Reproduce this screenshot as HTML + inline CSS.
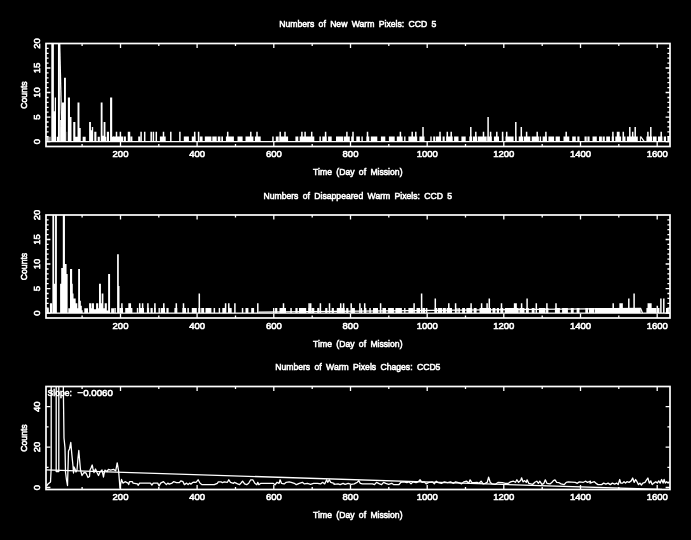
<!DOCTYPE html><html><head><meta charset="utf-8"><title>Warm Pixels CCD 5</title><style>html,body{margin:0;padding:0;background:#000;overflow:hidden}svg{display:block;filter:grayscale(1)}</style></head><body><svg width="691" height="540" viewBox="0 0 691 540">
<rect width="691" height="540" fill="#000"/>
<g font-family="Liberation Sans, sans-serif" font-size="9.7" fill="#fff" stroke="#fff" stroke-width="0.6" text-anchor="middle">
<text transform="translate(357.8,27.2) scale(0.89,1)" word-spacing="2.2">Numbers of New Warm Pixels: CCD 5</text>
<text transform="translate(357.8,175.1) scale(0.89,1)" word-spacing="2.2">Time (Day of Mission)</text>
<text transform="translate(120.5,157.2) scale(0.98,1)">200</text>
<text transform="translate(197.1,157.2) scale(0.98,1)">400</text>
<text transform="translate(273.8,157.2) scale(0.98,1)">600</text>
<text transform="translate(350.5,157.2) scale(0.98,1)">800</text>
<text transform="translate(427.2,157.2) scale(0.98,1)">1000</text>
<text transform="translate(503.8,157.2) scale(0.98,1)">1200</text>
<text transform="translate(580.5,157.2) scale(0.98,1)">1400</text>
<text transform="translate(657.2,157.2) scale(0.98,1)">1600</text>
<text transform="translate(40.4,141.6) rotate(-90) scale(0.98,1)">0</text>
<text transform="translate(40.4,117.1) rotate(-90) scale(0.98,1)">5</text>
<text transform="translate(40.4,92.5) rotate(-90) scale(0.98,1)">10</text>
<text transform="translate(40.4,68.0) rotate(-90) scale(0.98,1)">15</text>
<text transform="translate(40.4,43.5) rotate(-90) scale(0.98,1)">20</text>
<text transform="translate(27.3,95.0) rotate(-90) scale(0.89,1)">Counts</text>
<text transform="translate(357.8,198.7) scale(0.89,1)" word-spacing="2.2">Numbers of Disappeared Warm Pixels: CCD 5</text>
<text transform="translate(357.8,346.6) scale(0.89,1)" word-spacing="2.2">Time (Day of Mission)</text>
<text transform="translate(120.5,328.7) scale(0.98,1)">200</text>
<text transform="translate(197.1,328.7) scale(0.98,1)">400</text>
<text transform="translate(273.8,328.7) scale(0.98,1)">600</text>
<text transform="translate(350.5,328.7) scale(0.98,1)">800</text>
<text transform="translate(427.2,328.7) scale(0.98,1)">1000</text>
<text transform="translate(503.8,328.7) scale(0.98,1)">1200</text>
<text transform="translate(580.5,328.7) scale(0.98,1)">1400</text>
<text transform="translate(657.2,328.7) scale(0.98,1)">1600</text>
<text transform="translate(40.4,313.1) rotate(-90) scale(0.98,1)">0</text>
<text transform="translate(40.4,288.6) rotate(-90) scale(0.98,1)">5</text>
<text transform="translate(40.4,264.0) rotate(-90) scale(0.98,1)">10</text>
<text transform="translate(40.4,239.5) rotate(-90) scale(0.98,1)">15</text>
<text transform="translate(40.4,215.0) rotate(-90) scale(0.98,1)">20</text>
<text transform="translate(27.3,266.5) rotate(-90) scale(0.89,1)">Counts</text>
<text transform="translate(357.8,370.2) scale(0.89,1)" word-spacing="2.2">Numbers of Warm Pixels Chages: CCD5</text>
<text transform="translate(357.8,518.1) scale(0.89,1)" word-spacing="2.2">Time (Day of Mission)</text>
<text transform="translate(120.5,500.2) scale(0.98,1)">200</text>
<text transform="translate(197.1,500.2) scale(0.98,1)">400</text>
<text transform="translate(273.8,500.2) scale(0.98,1)">600</text>
<text transform="translate(350.5,500.2) scale(0.98,1)">800</text>
<text transform="translate(427.2,500.2) scale(0.98,1)">1000</text>
<text transform="translate(503.8,500.2) scale(0.98,1)">1200</text>
<text transform="translate(580.5,500.2) scale(0.98,1)">1400</text>
<text transform="translate(657.2,500.2) scale(0.98,1)">1600</text>
<text transform="translate(40.4,487.5) rotate(-90) scale(0.98,1)">0</text>
<text transform="translate(40.4,447.1) rotate(-90) scale(0.98,1)">20</text>
<text transform="translate(40.4,406.7) rotate(-90) scale(0.98,1)">40</text>
<text transform="translate(27.3,438.0) rotate(-90) scale(0.89,1)">Counts</text>
</g>
<g stroke="#fff" stroke-width="1.7" fill="none" stroke-linecap="butt">
<rect x="46.0" y="43.5" width="624.0" height="103.0"/>
<path stroke-width="1.3" d="M82.1 146.5v-2.5M82.1 43.5v2.5M120.5 146.5v-4.4M120.5 43.5v4.4M158.8 146.5v-2.5M158.8 43.5v2.5M197.1 146.5v-4.4M197.1 43.5v4.4M235.5 146.5v-2.5M235.5 43.5v2.5M273.8 146.5v-4.4M273.8 43.5v4.4M312.2 146.5v-2.5M312.2 43.5v2.5M350.5 146.5v-4.4M350.5 43.5v4.4M388.8 146.5v-2.5M388.8 43.5v2.5M427.2 146.5v-4.4M427.2 43.5v4.4M465.5 146.5v-2.5M465.5 43.5v2.5M503.8 146.5v-4.4M503.8 43.5v4.4M542.2 146.5v-2.5M542.2 43.5v2.5M580.5 146.5v-4.4M580.5 43.5v4.4M618.8 146.5v-2.5M618.8 43.5v2.5M657.2 146.5v-4.4M657.2 43.5v4.4M46.0 141.6h4.4M670.0 141.6h-4.4M46.0 136.7h2.6M670.0 136.7h-2.6M46.0 131.8h2.6M670.0 131.8h-2.6M46.0 126.9h2.6M670.0 126.9h-2.6M46.0 122.0h2.6M670.0 122.0h-2.6M46.0 117.1h4.4M670.0 117.1h-4.4M46.0 112.2h2.6M670.0 112.2h-2.6M46.0 107.3h2.6M670.0 107.3h-2.6M46.0 102.4h2.6M670.0 102.4h-2.6M46.0 97.5h2.6M670.0 97.5h-2.6M46.0 92.5h4.4M670.0 92.5h-4.4M46.0 87.6h2.6M670.0 87.6h-2.6M46.0 82.7h2.6M670.0 82.7h-2.6M46.0 77.8h2.6M670.0 77.8h-2.6M46.0 72.9h2.6M670.0 72.9h-2.6M46.0 68.0h4.4M670.0 68.0h-4.4M46.0 63.1h2.6M670.0 63.1h-2.6M46.0 58.2h2.6M670.0 58.2h-2.6M46.0 53.3h2.6M670.0 53.3h-2.6M46.0 48.4h2.6M670.0 48.4h-2.6"/>
<rect x="46.0" y="215.0" width="624.0" height="103.0"/>
<path stroke-width="1.3" d="M82.1 318.0v-2.5M82.1 215.0v2.5M120.5 318.0v-4.4M120.5 215.0v4.4M158.8 318.0v-2.5M158.8 215.0v2.5M197.1 318.0v-4.4M197.1 215.0v4.4M235.5 318.0v-2.5M235.5 215.0v2.5M273.8 318.0v-4.4M273.8 215.0v4.4M312.2 318.0v-2.5M312.2 215.0v2.5M350.5 318.0v-4.4M350.5 215.0v4.4M388.8 318.0v-2.5M388.8 215.0v2.5M427.2 318.0v-4.4M427.2 215.0v4.4M465.5 318.0v-2.5M465.5 215.0v2.5M503.8 318.0v-4.4M503.8 215.0v4.4M542.2 318.0v-2.5M542.2 215.0v2.5M580.5 318.0v-4.4M580.5 215.0v4.4M618.8 318.0v-2.5M618.8 215.0v2.5M657.2 318.0v-4.4M657.2 215.0v4.4M46.0 313.1h4.4M670.0 313.1h-4.4M46.0 308.2h2.6M670.0 308.2h-2.6M46.0 303.3h2.6M670.0 303.3h-2.6M46.0 298.4h2.6M670.0 298.4h-2.6M46.0 293.5h2.6M670.0 293.5h-2.6M46.0 288.6h4.4M670.0 288.6h-4.4M46.0 283.7h2.6M670.0 283.7h-2.6M46.0 278.8h2.6M670.0 278.8h-2.6M46.0 273.9h2.6M670.0 273.9h-2.6M46.0 269.0h2.6M670.0 269.0h-2.6M46.0 264.0h4.4M670.0 264.0h-4.4M46.0 259.1h2.6M670.0 259.1h-2.6M46.0 254.2h2.6M670.0 254.2h-2.6M46.0 249.3h2.6M670.0 249.3h-2.6M46.0 244.4h2.6M670.0 244.4h-2.6M46.0 239.5h4.4M670.0 239.5h-4.4M46.0 234.6h2.6M670.0 234.6h-2.6M46.0 229.7h2.6M670.0 229.7h-2.6M46.0 224.8h2.6M670.0 224.8h-2.6M46.0 219.9h2.6M670.0 219.9h-2.6"/>
<rect x="46.0" y="386.5" width="624.0" height="103.0"/>
<path stroke-width="1.3" d="M82.1 489.5v-2.5M82.1 386.5v2.5M120.5 489.5v-4.4M120.5 386.5v4.4M158.8 489.5v-2.5M158.8 386.5v2.5M197.1 489.5v-4.4M197.1 386.5v4.4M235.5 489.5v-2.5M235.5 386.5v2.5M273.8 489.5v-4.4M273.8 386.5v4.4M312.2 489.5v-2.5M312.2 386.5v2.5M350.5 489.5v-4.4M350.5 386.5v4.4M388.8 489.5v-2.5M388.8 386.5v2.5M427.2 489.5v-4.4M427.2 386.5v4.4M465.5 489.5v-2.5M465.5 386.5v2.5M503.8 489.5v-4.4M503.8 386.5v4.4M542.2 489.5v-2.5M542.2 386.5v2.5M580.5 489.5v-4.4M580.5 386.5v4.4M618.8 489.5v-2.5M618.8 386.5v2.5M657.2 489.5v-4.4M657.2 386.5v4.4M46.0 487.5h4.4M670.0 487.5h-4.4M46.0 467.3h2.6M670.0 467.3h-2.6M46.0 447.1h4.4M670.0 447.1h-4.4M46.0 426.9h2.6M670.0 426.9h-2.6M46.0 406.7h4.4M670.0 406.7h-4.4"/>
</g>
<clipPath id="c0"><rect x="46.0" y="43.5" width="624.0" height="103.0"/></clipPath>
<g clip-path="url(#c0)" fill="none" stroke="#fff" stroke-linejoin="round">
<path stroke-width="1.3" d="M59.7 43.5L61.7 126.9"/>
<path stroke-width="1.3" d="M640.7 136.7L644.3 141.6"/>
<path fill="#fff" stroke="none" d="M46.69 136.7H47.87V141.6H46.69ZM48.30 136.7H49.37V141.6H48.30ZM49.80 136.7H50.44V141.6H49.80ZM51.30 -5.5H53.88V141.6H51.30ZM53.88 111.2H54.74V141.6H53.88ZM54.74 97.5H56.03V141.6H54.74ZM56.78 136.7H57.96V141.6H56.78ZM57.96 -5.5H59.90V141.6H57.96ZM60.11 120.0H60.97V141.6H60.11ZM60.97 126.9H61.83V141.6H60.97ZM61.83 102.4H63.98V141.6H61.83ZM63.98 77.8H65.91V141.6H63.98ZM66.77 131.8H67.09V141.6H66.77ZM67.85 97.5H69.99V141.6H67.85ZM69.99 117.1H71.50V141.6H69.99ZM73.22 122.0H75.36V141.6H73.22ZM75.36 136.7H77.51V141.6H75.36ZM77.51 102.4H79.45V141.6H77.51ZM79.45 127.9H80.73V141.6H79.45ZM82.67 136.7H85.68V141.6H82.67ZM89.11 122.0H90.94V141.6H89.11ZM90.94 130.3H91.80V141.6H90.94ZM91.80 126.9H93.19V141.6H91.80ZM94.27 131.8H96.42V141.6H94.27ZM97.71 136.7H99.85V141.6H97.71ZM100.71 102.4H102.54V141.6H100.71ZM102.54 135.7H103.61V141.6H102.54ZM103.61 122.0H105.44V141.6H103.61ZM105.44 136.7H106.30V141.6H105.44ZM106.84 131.8H108.98V141.6H106.84ZM110.06 97.5H112.21V141.6H110.06ZM112.21 136.7H114.03V141.6H112.21Z"/>
<path stroke-width="1.4" d="M46 141.6H670"/>
<path stroke-width="1.5" stroke-linecap="butt" d="M116.5 141.6V131.8M120.4 141.6V131.8M128.5 141.6V131.8M129.5 141.6V131.8M141.1 141.6V131.8M144.7 141.6V131.8M151.2 141.6V131.8M153.4 141.6V131.8M156.3 141.6V131.8M163.5 141.6V131.8M170.8 141.6V131.8M179.9 141.6V131.8M194.7 141.6V131.8M198.6 141.6V131.8M227.7 141.6V131.8M250.8 141.6V131.8M257.0 141.6V131.8M280.2 141.6V131.8M285.0 141.6V131.8M301.9 141.6V131.8M305.1 141.6V131.8M311.7 141.6V131.8M325.6 141.6V131.8M346.9 141.6V131.8M353.0 141.6V131.8M367.5 141.6V131.8M400.4 141.6V131.8M412.2 141.6V131.8M415.8 141.6V131.8M423.0 141.6V126.9M440.0 141.6V131.8M447.3 141.6V131.8M451.2 141.6V131.8M470.8 141.6V126.9M475.8 141.6V131.8M483.5 141.6V131.8M488.1 141.6V117.1M490.6 141.6V131.8M496.8 141.6V131.8M502.6 141.6V131.8M506.7 141.6V131.8M515.8 141.6V122.0M521.3 141.6V126.9M526.6 141.6V131.8M537.2 141.6V131.8M545.9 141.6V131.8M566.2 141.6V131.8M612.9 141.6V131.8M617.5 141.6V131.8M618.9 141.6V131.8M623.3 141.6V131.8M629.8 141.6V126.9M632.7 141.6V131.8M635.2 141.6V126.9M647.9 141.6V131.8M650.8 141.6V126.9M661.2 141.6V131.8"/>
<path fill="#fff" stroke="none" d="M112.9 136.4H123.0V141.6H112.9ZM123.7 136.4H125.9V141.6H123.7ZM130.3 136.4H132.4V141.6H130.3ZM138.2 136.4H140.4V141.6H138.2ZM159.9 136.4H165.7V141.6H159.9ZM183.8 136.4H188.9V141.6H183.8ZM191.8 136.4H195.4V141.6H191.8ZM199.7 136.4H202.6V141.6H199.7ZM204.8 136.4H210.0V141.6H204.8ZM210.0 136.4H211.4V141.6H210.0ZM212.3 136.4H216.7V141.6H212.3ZM217.8 136.4H220.4V141.6H217.8ZM221.3 136.4H223.0V141.6H221.3ZM225.9 136.4H233.9V141.6H225.9ZM237.5 136.4H242.6V141.6H237.5ZM245.5 136.4H253.4V141.6H245.5ZM254.9 136.4H260.7V141.6H254.9ZM272.2 136.4H273.7V141.6H272.2ZM275.8 136.4H278.7V141.6H275.8ZM279.5 136.4H288.1V141.6H279.5ZM295.4 136.4H298.3V141.6H295.4ZM299.7 136.4H310.0V141.6H299.7ZM310.0 136.4H314.3V141.6H310.0ZM319.4 136.4H320.9V141.6H319.4ZM322.3 136.4H326.6V141.6H322.3ZM328.1 136.4H331.7V141.6H328.1ZM336.0 136.4H343.3V141.6H336.0ZM344.0 136.4H349.8V141.6H344.0ZM351.2 136.4H353.4V141.6H351.2ZM356.3 136.4H359.9V141.6H356.3ZM361.4 136.4H362.8V141.6H361.4ZM366.4 136.4H369.3V141.6H366.4ZM370.8 136.4H377.3V141.6H370.8ZM380.9 136.4H385.3V141.6H380.9ZM388.9 136.4H394.7V141.6H388.9ZM396.8 136.4H402.6V141.6H396.8ZM404.1 136.4H405.5V141.6H404.1ZM408.4 136.4H410.0V141.6H408.4ZM410.0 136.4H417.2V141.6H410.0ZM419.4 136.4H424.5V141.6H419.4ZM430.3 136.4H431.7V141.6H430.3ZM433.2 136.4H435.3V141.6H433.2ZM436.0 136.4H441.1V141.6H436.0ZM442.6 136.4H444.7V141.6H442.6ZM446.2 136.4H452.7V141.6H446.2ZM454.1 136.4H458.5V141.6H454.1ZM461.4 136.4H465.7V141.6H461.4ZM469.3 136.4H472.2V141.6H469.3ZM473.0 136.4H477.3V141.6H473.0ZM478.0 136.4H486.7V141.6H478.0ZM487.4 136.4H491.8V141.6H487.4ZM493.9 136.4H499.0V141.6H493.9ZM501.9 136.4H503.3V141.6H501.9ZM505.5 136.4H510.0V141.6H505.5ZM510.0 136.4H513.6V141.6H510.0ZM515.1 136.4H516.5V141.6H515.1ZM518.7 136.4H523.0V141.6H518.7ZM523.7 136.4H530.3V141.6H523.7ZM531.7 136.4H538.9V141.6H531.7ZM539.7 136.4H541.1V141.6H539.7ZM542.6 136.4H546.9V141.6H542.6ZM548.4 136.4H554.1V141.6H548.4ZM555.6 136.4H559.9V141.6H555.6ZM563.5 136.4H569.3V141.6H563.5ZM572.2 136.4H575.8V141.6H572.2ZM577.3 136.4H579.5V141.6H577.3ZM584.5 136.4H586.7V141.6H584.5ZM587.4 136.4H589.6V141.6H587.4ZM592.5 136.4H596.8V141.6H592.5ZM599.0 136.4H601.9V141.6H599.0ZM602.6 136.4H604.8V141.6H602.6ZM606.2 136.4H610.0V141.6H606.2ZM611.7 136.4H613.9V141.6H611.7ZM615.3 136.4H621.1V141.6H615.3ZM622.6 136.4H625.5V141.6H622.6ZM626.9 136.4H637.8V141.6H626.9ZM639.9 136.4H640.9V141.6H639.9ZM646.4 136.4H652.2V141.6H646.4ZM653.0 136.4H656.6V141.6H653.0ZM658.0 136.4H662.4V141.6H658.0ZM663.8 136.4H666.0V141.6H663.8ZM667.4 136.4H669.6V141.6H667.4Z"/>
</g>
<clipPath id="c1"><rect x="46.0" y="215.0" width="624.0" height="103.0"/></clipPath>
<g clip-path="url(#c1)" fill="none" stroke="#fff" stroke-linejoin="round">
<path stroke-width="1.3" d="M258.5 312.1L640.7 308.4L642.5 313.1"/>
<path fill="#fff" stroke="none" d="M46.69 308.2H48.83V313.1H46.69ZM49.91 303.3H52.06V313.1H49.91ZM52.38 166.0H54.20V313.1H52.38ZM54.20 283.7H55.06V313.1H54.20ZM55.06 166.0H56.89V313.1H55.06ZM60.11 283.7H61.19V313.1H60.11ZM61.19 268.0H62.80V313.1H61.19ZM62.80 166.0H64.95V313.1H62.80ZM64.95 264.0H66.56V313.1H64.95ZM66.56 273.9H67.63V313.1H66.56ZM68.27 308.2H69.99V313.1H68.27ZM69.99 269.0H72.14V313.1H69.99ZM72.14 283.7H72.79V313.1H72.14ZM72.79 293.5H73.54V313.1H72.79ZM73.54 298.4H75.69V313.1H73.54ZM75.69 303.3H77.30V313.1H75.69ZM77.30 308.2H78.16V313.1H77.30ZM78.16 269.0H79.98V313.1H78.16ZM79.98 300.8H80.84V313.1H79.98ZM80.84 305.7H81.81V313.1H80.84ZM81.81 310.2H82.67V313.1H81.81ZM84.28 308.2H88.04V313.1H84.28ZM89.11 303.3H91.26V313.1H89.11ZM91.26 308.2H91.80V313.1H91.26ZM91.80 303.3H93.95V313.1H91.80ZM93.95 309.2H96.09V313.1H93.95ZM96.09 303.3H98.24V313.1H96.09ZM98.24 308.2H98.99V313.1H98.24ZM98.99 283.7H100.93V313.1H98.99ZM100.93 303.3H101.68V313.1H100.93ZM101.68 293.5H103.40V313.1H101.68ZM103.40 308.2H104.69V313.1H103.40ZM104.69 303.3H106.84V313.1H104.69ZM106.84 310.6H108.12V313.1H106.84ZM108.12 273.9H110.06V313.1H108.12ZM111.13 308.2H114.03V313.1H111.13ZM117.10 254.2H118.80V313.1H117.10ZM118.80 286.1H119.50V313.1H118.80Z"/>
<path stroke-width="1.4" d="M46 313.1H670"/>
<path stroke-width="1.5" stroke-linecap="butt" d="M121.9 313.1V303.3M129.1 313.1V303.3M130.3 313.1V303.3M139.7 313.1V303.3M142.6 313.1V303.3M147.9 313.1V303.3M154.9 313.1V303.3M163.8 313.1V303.3M176.3 313.1V303.3M183.5 313.1V303.3M199.3 313.1V293.5M225.6 313.1V303.3M228.8 313.1V303.3M234.9 313.1V303.3M257.8 313.1V303.3M283.5 313.1V303.3M309.1 313.1V303.3M310.7 313.1V303.3M320.4 313.1V303.3M329.5 313.1V303.3M340.7 313.1V303.3M343.6 313.1V303.3M351.2 313.1V303.3M359.9 313.1V303.3M364.7 313.1V303.3M380.6 313.1V303.3M414.1 313.1V303.3M421.6 313.1V293.5M435.3 313.1V298.4M448.8 313.1V303.3M455.6 313.1V303.3M471.1 313.1V303.3M481.6 313.1V303.3M487.1 313.1V303.3M489.3 313.1V298.4M501.5 313.1V303.3M514.6 313.1V303.3M516.1 313.1V303.3M521.6 313.1V303.3M527.1 313.1V298.4M536.3 313.1V303.3M546.9 313.1V303.3M556.0 313.1V303.3M613.2 313.1V303.3M620.1 313.1V303.3M621.1 313.1V303.3M622.1 313.1V303.3M628.8 313.1V298.4M634.1 313.1V293.5M648.3 313.1V303.3M649.6 313.1V303.3M650.9 313.1V303.3M657.3 313.1V305.7M660.9 313.1V298.4M663.8 313.1V298.4"/>
<path fill="#fff" stroke="none" d="M114.3 307.9H115.8V313.1H114.3ZM119.4 307.9H123.0V313.1H119.4ZM125.2 307.9H132.4V313.1H125.2ZM136.8 307.9H138.2V313.1H136.8ZM138.9 307.9H144.0V313.1H138.9ZM146.9 307.9H149.1V313.1H146.9ZM150.5 307.9H152.7V313.1H150.5ZM154.1 307.9H155.6V313.1H154.1ZM158.5 307.9H159.9V313.1H158.5ZM160.7 307.9H165.0V313.1H160.7ZM166.4 307.9H168.6V313.1H166.4ZM174.4 307.9H177.3V313.1H174.4ZM182.4 307.9H186.0V313.1H182.4ZM187.4 307.9H188.9V313.1H187.4ZM191.8 307.9H196.8V313.1H191.8ZM198.3 307.9H200.4V313.1H198.3ZM201.2 307.9H204.1V313.1H201.2ZM205.5 307.9H210.0V313.1H205.5ZM210.0 307.9H211.4V313.1H210.0ZM213.6 307.9H215.1V313.1H213.6ZM218.7 307.9H220.1V313.1H218.7ZM222.3 307.9H225.9V313.1H222.3ZM228.1 307.9H231.7V313.1H228.1ZM241.8 307.9H243.3V313.1H241.8ZM245.5 307.9H248.4V313.1H245.5ZM251.2 307.9H254.1V313.1H251.2ZM273.0 307.9H274.4V313.1H273.0ZM275.1 307.9H277.3V313.1H275.1ZM279.5 307.9H286.0V313.1H279.5ZM290.3 307.9H291.8V313.1H290.3ZM295.4 307.9H297.6V313.1H295.4ZM299.0 307.9H306.2V313.1H299.0ZM308.4 307.9H310.0V313.1H308.4ZM311.4 307.9H314.3V313.1H311.4ZM317.2 307.9H319.4V313.1H317.2ZM325.2 307.9H327.4V313.1H325.2ZM331.7 307.9H333.9V313.1H331.7ZM336.8 307.9H340.4V313.1H336.8ZM341.1 307.9H344.7V313.1H341.1ZM346.2 307.9H348.4V313.1H346.2ZM352.0 307.9H354.9V313.1H352.0ZM360.7 307.9H362.1V313.1H360.7ZM365.0 307.9H366.4V313.1H365.0ZM369.3 307.9H370.8V313.1H369.3ZM373.0 307.9H378.0V313.1H373.0ZM382.4 307.9H386.0V313.1H382.4ZM388.1 307.9H393.9V313.1H388.1ZM395.4 307.9H401.9V313.1H395.4ZM404.1 307.9H405.5V313.1H404.1ZM408.4 307.9H410.0V313.1H408.4ZM410.0 307.9H413.6V313.1H410.0ZM416.5 307.9H420.1V313.1H416.5ZM422.3 307.9H425.2V313.1H422.3ZM425.9 307.9H427.4V313.1H425.9ZM434.6 307.9H437.2V313.1H434.6ZM437.9 307.9H442.3V313.1H437.9ZM443.0 307.9H445.9V313.1H443.0ZM446.6 307.9H452.0V313.1H446.6ZM456.3 307.9H457.5V313.1H456.3ZM458.3 307.9H459.9V313.1H458.3ZM462.1 307.9H465.0V313.1H462.1ZM466.4 307.9H472.2V313.1H466.4ZM473.7 307.9H476.6V313.1H473.7ZM479.5 307.9H491.0V313.1H479.5ZM492.5 307.9H495.4V313.1H492.5ZM496.8 307.9H499.0V313.1H496.8ZM500.4 307.9H503.3V313.1H500.4ZM504.8 307.9H510.0V313.1H504.8ZM510.0 307.9H518.7V313.1H510.0ZM519.4 307.9H524.5V313.1H519.4ZM525.9 307.9H528.8V313.1H525.9ZM531.7 307.9H534.6V313.1H531.7ZM538.9 307.9H545.5V313.1H538.9ZM546.2 307.9H548.4V313.1H546.2ZM554.9 307.9H559.9V313.1H554.9ZM562.1 307.9H567.9V313.1H562.1ZM570.8 307.9H573.7V313.1H570.8ZM576.6 307.9H579.5V313.1H576.6ZM585.3 307.9H588.1V313.1H585.3ZM589.0 307.9H592.5V313.1H589.0ZM594.7 307.9H596.8V313.1H594.7ZM599.7 307.9H605.5V313.1H599.7ZM607.0 307.9H610.0V313.1H607.0ZM590.0 307.9H594.1V313.1H590.0ZM595.8 307.9H600.1V313.1H595.8ZM602.3 307.9H640.7V313.1H602.3ZM646.4 307.9H656.6V313.1H646.4ZM658.0 307.9H659.5V313.1H658.0ZM666.0 307.9H668.9V313.1H666.0Z"/>
</g>
<clipPath id="c2"><rect x="46.0" y="386.5" width="624.0" height="103.0"/></clipPath>
<g clip-path="url(#c2)" fill="none" stroke="#fff" stroke-linejoin="round">
<path stroke-width="1.3" d="M46.5 486.0L48.0 484.0L50.5 482.0L51.2 468.0L51.2 378.0L56.2 378.0L56.2 471.5L58.8 471.5L58.8 378.0L63.2 378.0L64.0 438.0L65.0 448.0L65.5 472.0L66.5 480.0L67.5 485.5L68.0 468.0L68.5 451.0L69.5 449.0L70.8 442.5L71.8 454.0L73.0 466.0L73.5 473.0L74.0 467.0L75.0 469.0L76.0 472.0L77.0 470.0L78.0 458.0L78.8 450.5L79.6 460.0L80.5 470.0L82.0 475.5L84.0 472.5L86.0 473.0L88.0 477.5L89.5 476.5L90.0 470.0L91.0 468.0L92.2 465.0L93.0 469.0L94.0 472.5L95.5 469.0L97.0 472.5L98.5 475.5L100.0 472.0L102.0 470.0L103.5 477.0L104.0 474.0L104.9 470.1L107.0 471.5L108.5 469.4L110.6 470.1L113.5 469.4L115.7 470.8L117.2 462.9L118.6 470.8L120.0 488.2L120.8 483.1L121.5 479.5L122.9 483.1L125.1 481.7L128.0 483.1L128.7 484.6L129.5 481.7L132.4 481.7L133.1 483.1L137.4 483.8L138.1 485.3L139.6 483.1L150.4 483.1L151.9 485.0L153.3 483.1L157.7 483.1L159.1 486.0L160.6 483.1L163.5 481.7L164.9 483.1L166.4 484.6L167.8 483.1L169.3 484.1L172.1 483.1L173.6 481.7L176.5 482.7L179.4 482.7L180.8 480.9L183.0 481.7L184.4 484.6L186.6 483.1L188.1 484.6L189.5 483.1L191.0 484.1L192.4 482.7L194.0 482.1L196.0 482.3L198.1 479.8L200.1 483.3L202.1 484.7L214.3 484.7L217.3 483.3L218.3 481.9L221.4 481.9L222.4 482.7L224.4 481.9L227.4 482.3L228.8 479.8L230.5 482.3L233.5 483.3L234.5 482.3L237.6 483.9L239.6 484.7L241.6 482.3L242.6 481.2L244.6 483.9L246.7 484.7L248.7 483.3L250.7 479.8L252.8 479.8L254.8 483.3L256.8 484.7L257.8 482.3L258.8 484.7L260.9 483.3L273.0 483.3L275.0 484.7L277.1 482.3L279.1 483.3L280.1 479.8L281.5 483.3L284.2 483.9L286.2 482.3L289.2 481.9L291.2 482.3L294.3 483.3L296.3 484.7L299.3 483.3L302.4 482.3L304.4 483.9L307.5 483.3L310.5 484.3L313.5 483.3L317.6 483.3L320.6 483.9L322.6 482.3L324.7 483.9L326.7 479.8L327.7 482.3L329.3 479.8L330.8 482.3L334.0 483.3L334.0 484.3L338.1 483.9L340.1 484.7L343.1 483.3L345.1 484.3L348.2 483.3L351.2 484.3L354.3 483.9L357.3 482.3L358.7 480.6L360.3 483.3L362.4 483.9L372.5 483.9L374.5 484.7L376.5 482.3L379.6 483.9L381.6 484.7L383.6 482.3L385.7 483.3L388.7 484.3L391.7 483.3L393.8 484.7L398.8 484.7L400.9 482.3L403.9 481.9L406.9 482.7L409.0 481.9L411.0 483.9L413.0 481.9L416.1 482.7L418.1 481.9L420.1 479.8L422.1 482.3L424.2 481.9L426.2 483.9L429.2 482.3L432.3 481.9L434.3 483.9L436.3 481.2L438.3 482.7L441.4 483.3L444.4 481.9L447.5 482.7L450.5 481.9L453.5 483.3L455.6 481.9L458.6 482.7L461.6 483.9L463.7 481.9L466.7 481.2L468.7 483.3L470.1 479.8L471.8 482.3L474.0 482.7L474.0 482.7L477.0 482.3L479.1 483.3L481.1 481.2L483.1 483.9L485.1 483.3L487.2 482.3L488.6 477.2L490.2 482.3L492.2 483.9L495.3 484.3L498.3 482.3L502.4 482.7L505.4 483.3L508.4 483.3L510.5 481.9L513.5 481.2L515.5 482.3L516.9 479.8L518.6 482.3L520.6 480.6L521.6 477.8L523.0 481.9L524.6 480.6L526.3 482.3L527.1 479.8L528.7 483.3L532.8 484.3L534.8 482.3L536.8 481.2L538.4 483.3L539.8 481.2L541.9 484.3L543.9 483.3L545.3 479.8L546.9 483.3L550.0 483.9L552.0 482.3L553.4 480.6L555.0 479.8L556.7 482.3L559.1 482.7L561.1 483.9L564.2 484.7L566.2 482.3L568.2 481.9L575.3 482.3L577.3 483.3L579.3 481.9L583.4 482.3L585.4 481.2L587.5 482.3L590.5 481.2L590.0 483.1L592.2 482.4L594.3 481.7L595.8 483.1L598.0 484.6L601.6 484.6L603.7 483.1L605.9 484.1L608.1 483.1L610.3 484.6L612.4 483.1L614.6 484.1L616.8 483.1L618.2 484.6L619.7 479.5L620.7 483.1L622.6 483.1L624.0 481.7L625.5 483.1L626.9 481.7L629.1 482.4L631.2 480.9L632.7 478.0L634.1 482.4L635.6 479.5L637.0 481.7L638.5 484.6L639.9 483.1L641.4 485.0L642.8 483.1L645.0 482.4L646.4 480.2L647.9 478.0L649.3 483.1L650.8 480.9L652.2 484.6L653.7 483.1L655.8 481.7L657.3 483.1L658.7 480.9L660.2 483.1L661.6 479.5L663.1 483.1L664.1 479.5L665.3 483.1L666.7 481.7L668.1 483.1L669.3 481.7"/>
<path stroke-width="1.3" d="M46.0 469.9L662.0 489.5"/>
</g>
<g font-family="Liberation Sans, sans-serif" font-size="9.7" fill="#fff" stroke="#fff" stroke-width="0.6"><text transform="translate(47.6,395.8) scale(0.88,1)">Slope:</text><text transform="translate(112.8,395.8) scale(1.0,1)" text-anchor="end">−0.0060</text></g>
</svg></body></html>
